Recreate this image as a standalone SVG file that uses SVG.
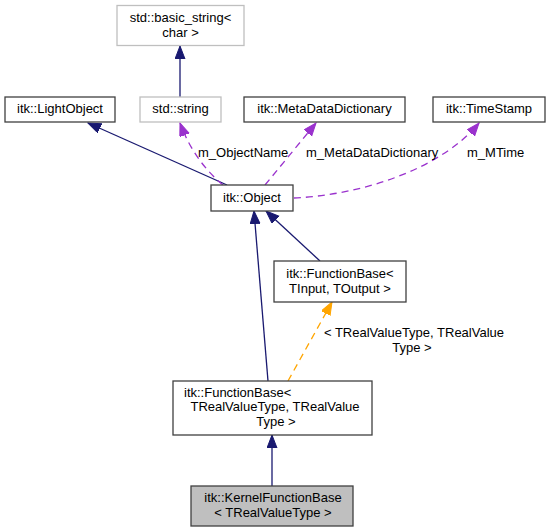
<svg xmlns="http://www.w3.org/2000/svg" width="549" height="532" viewBox="0 0 549 532">
<style>
text{font-family:"Liberation Sans",Arial,sans-serif;font-size:13px;fill:#000}
.c{text-anchor:middle}
.n{fill:#fff;stroke:#404040;stroke-width:1.3}
.g{fill:#fff;stroke:#bfbfbf;stroke-width:1.3}
.k{fill:#bfbfbf;stroke:#404040;stroke-width:1.3}
.inh{fill:none;stroke:#191970;stroke-width:1.3;marker-end:url(#an)}
.use{fill:none;stroke:#9a32cd;stroke-width:1.3;stroke-dasharray:7,5;marker-end:url(#ap)}
.tpl{fill:none;stroke:#ffa500;stroke-width:1.3;stroke-dasharray:7,5;marker-end:url(#ao)}
</style>
<defs>
<marker id="an" markerUnits="userSpaceOnUse" markerWidth="14" markerHeight="11" refX="13" refY="5" orient="auto"><path d="M0,0 L13,5 L0,10 z" fill="#191970" stroke="#191970"/></marker>
<marker id="ap" markerUnits="userSpaceOnUse" markerWidth="14" markerHeight="11" refX="13" refY="5" orient="auto"><path d="M0,0 L13,5 L0,10 z" fill="#9a32cd" stroke="#9a32cd"/></marker>
<marker id="ao" markerUnits="userSpaceOnUse" markerWidth="14" markerHeight="11" refX="13" refY="5" orient="auto"><path d="M0,0 L13,5 L0,10 z" fill="#ffa500" stroke="#ffa500"/></marker>
</defs>
<rect width="549" height="532" fill="#fff"/>
<g id="edges">
<path class="inh" d="M180,97 L180,46"/>
<path class="inh" d="M227,185 L88,123"/>
<path class="use" d="M223,185 C205,170 190,150 180,123"/>
<path class="use" d="M265,185 L316,123"/>
<path class="use" d="M294,198 C360,195 440,170 479,123"/>
<path class="inh" d="M320,261 L266,211"/>
<path class="inh" d="M268,381 L254,211"/>
<path class="tpl" d="M288,381 L332,302"/>
<path class="inh" d="M272,486 L272,435"/>
<text x="198" y="157">m_ObjectName</text>
<text x="306" y="157">m_MetaDataDictionary</text>
<text x="467" y="157">m_MTime</text>
<text class="c" x="414" y="337">&lt; TRealValueType, TRealValue</text>
<text class="c" x="412" y="352">Type &gt;</text>
</g>
<g id="basic_string"><rect class="g" x="117" y="5.5" width="127" height="40"/><text class="c" x="180.5" y="22">std::basic_string&lt;</text><text class="c" x="180.5" y="37">char &gt;</text></g>
<g id="LightObject"><rect class="n" x="5" y="97" width="110" height="25"/><text class="c" x="60" y="113">itk::LightObject</text></g>
<g id="std_string"><rect class="g" x="140" y="97" width="81" height="25"/><text class="c" x="180.5" y="113">std::string</text></g>
<g id="MetaDataDictionary"><rect class="n" x="244" y="97" width="161" height="25"/><text class="c" x="324.5" y="113">itk::MetaDataDictionary</text></g>
<g id="TimeStamp"><rect class="n" x="433" y="97" width="112" height="25"/><text class="c" x="489" y="113">itk::TimeStamp</text></g>
<g id="Object"><rect class="n" x="211" y="185" width="82" height="26"/><text class="c" x="252" y="202">itk::Object</text></g>
<g id="FunctionBaseIO"><rect class="n" x="274" y="261" width="132" height="41"/><text class="c" x="340" y="278">itk::FunctionBase&lt;</text><text class="c" x="340" y="293"> TInput, TOutput &gt;</text></g>
<g id="FunctionBaseReal"><rect class="n" x="173" y="381" width="199" height="54"/><text x="184" y="397">itk::FunctionBase&lt;</text><text class="c" x="275" y="411">TRealValueType, TRealValue</text><text class="c" x="276" y="426">Type &gt;</text></g>
<g id="KernelFunctionBase"><rect class="k" x="191" y="486" width="162" height="40"/><text class="c" x="273" y="502">itk::KernelFunctionBase</text><text class="c" x="273" y="517">&lt; TRealValueType &gt;</text></g>
</svg>
